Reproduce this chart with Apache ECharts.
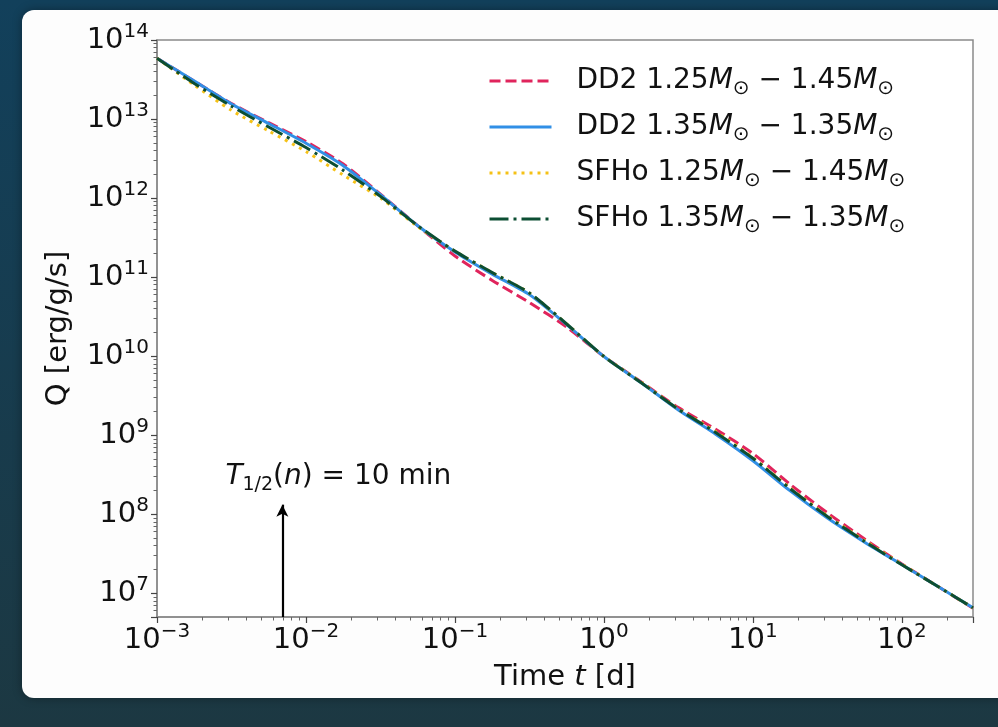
<!DOCTYPE html>
<html><head><meta charset="utf-8">
<script src="https://cdn.jsdelivr.net/npm/echarts@6/dist/echarts.min.js"></script>
<style>html,body{margin:0;padding:0;background:#163d52;}#c{width:998px;height:727px;}</style>
</head><body><div id="c"></div>
<script>
// Time in days
const timeDays = [0.001, 0.00178, 0.00316, 0.00562, 0.01, 0.0178, 0.0316, 0.0562, 0.1, 0.178, 0.316, 0.562, 1, 1.78, 3.16, 5.62, 10, 17.8, 31.6, 56.2, 100, 178, 300];
// Heating rate Q [erg/g/s]
const dd2_125_145 = [5.89e13, 3.02e13, 1.57e13, 8.99e12, 5.18e12, 2.69e12, 1.12e12, 4.47e11, 1.85e11, 9.08e10, 4.76e10, 2.33e10, 9.89e9, 4.71e9, 2.23e9, 1.19e9, 5.85e8, 2.38e8, 1.04e8, 4.84e7, 2.34e7, 1.19e7, 6.46e6];
const dd2_135_135 = [5.89e13, 3.02e13, 1.55e13, 8.79e12, 4.94e12, 2.57e12, 1.10e12, 4.47e11, 2.08e11, 1.09e11, 6.00e10, 2.50e10, 9.89e9, 4.60e9, 2.08e9, 1.03e9, 4.75e8, 1.97e8, 8.93e7, 4.42e7, 2.29e7, 1.19e7, 6.53e6];
const sfho_125_145 = [5.89e13, 2.69e13, 1.29e13, 7.06e12, 3.88e12, 1.95e12, 1.00e12, 4.37e11, 2.13e11, 1.14e11, 6.28e10, 2.55e10, 9.89e9, 4.66e9, 2.15e9, 1.11e9, 5.20e8, 2.14e8, 9.57e7, 4.62e7, 2.32e7, 1.19e7, 6.53e6];
const sfho_135_135 = [5.89e13, 2.82e13, 1.45e13, 7.92e12, 4.36e12, 2.24e12, 1.05e12, 4.47e11, 2.13e11, 1.14e11, 6.28e10, 2.55e10, 9.89e9, 4.60e9, 2.13e9, 1.08e9, 5.10e8, 2.10e8, 9.35e7, 4.52e7, 2.29e7, 1.19e7, 6.53e6];
const seriesNames = ['DD2 1.25M⊙ − 1.45M⊙', 'DD2 1.35M⊙ − 1.35M⊙', 'SFHo 1.25M⊙ − 1.45M⊙', 'SFHo 1.35M⊙ − 1.35M⊙'];
// Annotation: neutron half-life 10 min, in days
const tHalfNeutron = 0.00694;
const arrowFromQ = 5e6;
const arrowToQ = 1.32e8;

const FONT = 'DejaVu Sans';
const chart = echarts.init(document.getElementById('c'));

function powLabel(v) {
  const e = Math.log10(v);
  const r = Math.round(e);
  if (Math.abs(e - r) > 1e-6) return '';
  return '{b|10}{sup|' + (r < 0 ? '\u2212' + (-r) : r) + '}';
}
const tickRich = {
  b: {fontSize: 29, lineHeight: 36, fontFamily: FONT, color: '#111'},
  sup: {fontSize: 20, lineHeight: 14, verticalAlign: 'top', fontFamily: FONT, color: '#111'}
};

const styles = [
  {color: '#e0245c', type: [11, 5]},
  {color: '#318fe6', type: 'solid'},
  {color: '#f5c116', type: [3, 5]},
  {color: '#0c4e33', type: [19, 5, 3, 5]}
];
const dataSets = [dd2_125_145, dd2_135_135, sfho_125_145, sfho_135_135];

const series = dataSets.map((arr, i) => ({
  name: seriesNames[i],
  type: 'line',
  symbol: 'none',
  smooth: 0.25,
  data: timeDays.map((t, j) => [t, arr[j]]),
  lineStyle: {color: styles[i].color, width: 3, type: styles[i].type},
  itemStyle: {color: styles[i].color},
  z: 2 + i
}));

series[0].markLine = {
  silent: true,
  symbol: ['none', 'arrow'],
  symbolSize: [9, 12],
  lineStyle: {color: '#000', width: 2.2, type: 'solid'},
  label: {
    show: true, position: 'end', distance: 10,
    padding: [0, 0, 0, 112],
    formatter: '{it|T}{sub|1/2}({it|n}) = 10 min',
    fontSize: 28, fontFamily: FONT, color: '#111', lineHeight: 36,
    rich: {
      it: {fontStyle: 'italic', fontSize: 28, lineHeight: 36, fontFamily: FONT, color: '#111'},
      sub: {fontSize: 19, lineHeight: 16, verticalAlign: 'bottom', fontFamily: FONT, color: '#111'}
    }
  },
  data: [[{coord: [tHalfNeutron, arrowFromQ]}, {coord: [tHalfNeutron, arrowToQ]}]]
};

const axisCommon = {
  type: 'log', logBase: 10,
  axisLine: {show: true, onZero: false, lineStyle: {color: '#8a8a8a', width: 1.5}},
  axisTick: {show: true, inside: false, length: 6, lineStyle: {color: '#444', width: 1.2}},
  minorTick: {show: true, splitNumber: 9, length: 3.5, lineStyle: {color: '#666', width: 1}},
  splitLine: {show: false},
  minorSplitLine: {show: false},
  axisLabel: {formatter: powLabel, rich: tickRich, hideOverlap: false, showMinLabel: true, showMaxLabel: true},
  nameLocation: 'middle',
  nameTextStyle: {fontSize: 29, fontFamily: FONT, color: '#111',
    rich: {it: {fontStyle: 'italic', fontSize: 29, fontFamily: FONT, color: '#111'}}}
};

chart.setOption({
  animation: false,
  backgroundColor: {type: 'linear', x: 0, y: 0, x2: 0, y2: 1,
    colorStops: [{offset: 0, color: '#12405b'}, {offset: 1, color: '#1c3842'}]},
  textStyle: {fontFamily: FONT},
  graphic: [{type: 'rect', left: 22, top: 10, z: -10, silent: true,
    shape: {width: 1010, height: 688, r: 12},
    style: {fill: '#fdfdfd', shadowBlur: 10, shadowColor: 'rgba(0,0,0,0.35)'}}],
  grid: {left: 157, right: 25, top: 40, bottom: 110, show: true,
    borderColor: '#8a8a8a', borderWidth: 1.5, backgroundColor: '#fff', outerBoundsMode: 'none'},
  legend: {
    orient: 'vertical', left: 483, top: 58,
    itemWidth: 62, itemHeight: 14, itemGap: 10,
    selectedMode: false,
    itemStyle: {opacity: 0},
    lineStyle: {width: 3},
    formatter: name => name.replace(/M⊙/g, '{it|M}{sub|⊙}'),
    textStyle: {fontSize: 28, fontFamily: FONT, color: '#111', lineHeight: 36, padding: [0, 0, 0, 20],
      rich: {
        it: {fontStyle: 'italic', fontSize: 28, lineHeight: 36, fontFamily: FONT, color: '#111'},
        sub: {fontSize: 20, lineHeight: 12, verticalAlign: 'bottom', fontFamily: FONT, color: '#111'}
      }}
  },
  xAxis: Object.assign({}, axisCommon, {
    min: 0.001, max: 300, name: 'Time {it|t} [d]', nameGap: 46,
    axisLabel: Object.assign({}, axisCommon.axisLabel, {margin: 5})
  }),
  yAxis: Object.assign({}, axisCommon, {
    min: 5e6, max: 1e14, name: 'Q [erg/g/s]', nameGap: 84, nameRotate: 90,
    axisLabel: Object.assign({}, axisCommon.axisLabel, {margin: 8})
  }),
  series: series
});
</script>
</body></html>
